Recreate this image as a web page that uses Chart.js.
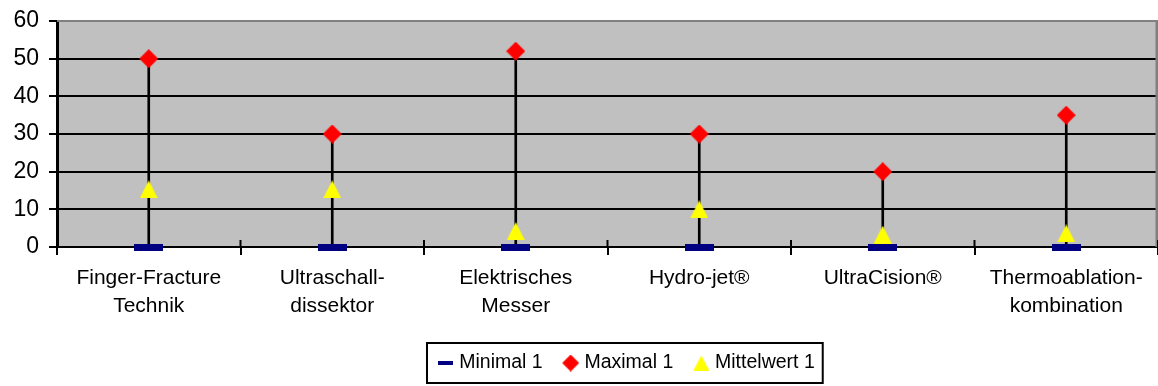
<!DOCTYPE html>
<html><head><meta charset="utf-8">
<script src="https://cdn.jsdelivr.net/npm/chart.js@4/dist/chart.umd.min.js"></script>
<style>html,body{margin:0;padding:0;background:#fff;}#wrap{width:1158px;height:386px;}</style>
</head><body><div id="wrap"><canvas id="c" width="1158" height="386"></canvas></div>
<script>
// ---- data ----
const categories = [["Finger-Fracture","Technik"],["Ultraschall-","dissektor"],["Elektrisches","Messer"],["Hydro-jet®"],["UltraCision®"],["Thermoablation-","kombination"]];
const minimal = [0, 0, 0, 0, 0, 0];
const maximal = [50, 30, 52, 30, 20, 35];
const mittelwert = [15.3, 15.3, 4.2, 10, 3.3, 3.6];
const yTicks = [0, 10, 20, 30, 40, 50, 60];
const seriesNames = ["Minimal 1", "Maximal 1", "Mittelwert 1"];

// ---- marker images ----
function marker(m, h, shape, color, off) {
  const c = document.createElement('canvas');
  c.width = m + 2 * off; c.height = h;
  const g = c.getContext('2d');
  g.fillStyle = color;
  const x0 = 2 * off;
  g.beginPath();
  if (shape === 'dash') { g.rect(x0, 0, m, h); }
  else if (shape === 'diamond') { g.moveTo(x0 + m / 2, 0); g.lineTo(x0 + m, h / 2); g.lineTo(x0 + m / 2, h); g.lineTo(x0, h / 2); g.closePath(); }
  else { g.moveTo(x0 + m / 2, 0); g.lineTo(x0 + m, h); g.lineTo(x0, h); g.closePath(); }
  g.fill();
  return c;
}
const NAVY = '#000080', RED = '#FF0000', YEL = '#FFFF00';
const dashImg = marker(29, 7, 'dash', NAVY, 0);
const diaImg = marker(19, 19, 'diamond', RED, 0);
const triImg = marker(18, 18, 'tri', YEL, 0);
const LOFF = 10.5;
const legendImgs = [marker(15, 4, 'dash', NAVY, LOFF), marker(17, 17, 'diamond', RED, LOFF), marker(16, 15, 'tri', YEL, LOFF)];

const FONT = 'Liberation Sans, Arial, sans-serif';

const plotDeco = {
  id: 'plotDeco',
  beforeDraw(chart) {
    const a = chart.chartArea, g = chart.ctx;
    g.save(); g.fillStyle = '#C0C0C0';
    g.fillRect(a.left, a.top, a.right - a.left, a.bottom - a.top);
    g.restore();
  },
  beforeDatasetsDraw(chart) {
    const a = chart.chartArea, g = chart.ctx, xs = chart.scales.x;
    g.save();
    g.strokeStyle = '#808080';
    g.lineWidth = 3;
    g.beginPath(); g.moveTo(a.right - 1, a.top - 1); g.lineTo(a.right - 1, a.bottom); g.stroke();
    g.lineWidth = 2;
    g.beginPath(); g.moveTo(a.left, a.top); g.lineTo(a.right, a.top); g.stroke();
    // inner part of the cross tick marks on the category axis
    const half = (xs.getPixelForValue(1) - xs.getPixelForValue(0)) / 2;
    g.strokeStyle = '#000'; g.lineWidth = 2;
    for (let i = 0; i <= categories.length; i++) {
      const x = xs.getPixelForValue(i) - half;
      g.beginPath(); g.moveTo(x, a.bottom - 7); g.lineTo(x, a.bottom); g.stroke();
    }
    g.restore();
  },
  afterLayout(chart) {
    const L = chart.legend;
    if (!L || !L.lineWidths) return;
    const pad = L.options.labels.padding;
    const cur = (L.left + pad + L.right - L.lineWidths[0]) / 2;
    const dx = 420.5 - cur;
    L.left += dx; L.right += dx;
  },
  afterDraw(chart) {
    const hb = chart.legend.legendHitBoxes;
    if (!hb || !hb.length) return;
    const g = chart.ctx;
    const last = hb[hb.length - 1];
    const left = hb[0].left + 6.5, right = last.left + last.width + 8;
    const cy = hb[0].top + hb[0].height / 2;
    g.save(); g.strokeStyle = '#000'; g.lineWidth = 2;
    g.strokeRect(left, cy - 20, right - left, 40);
    g.restore();
  }
};

new Chart(document.getElementById('c'), {
  data: {
    labels: categories,
    datasets: [
      { type: 'bar', label: 'range', data: maximal.map((v, i) => [minimal[i], v]), backgroundColor: '#000', borderWidth: 0, barThickness: 2, order: 10, clip: false },
      { type: 'line', label: seriesNames[0], data: minimal, showLine: false, pointStyle: dashImg, pointRadius: 10, order: 1, clip: false },
      { type: 'line', label: seriesNames[1], data: maximal, showLine: false, pointStyle: diaImg, pointRadius: 10, order: 3, clip: false },
      { type: 'line', label: seriesNames[2], data: mittelwert, showLine: false, pointStyle: triImg, pointRadius: 10, order: 2, clip: false }
    ]
  },
  options: {
    responsive: false,
    animation: false,
    devicePixelRatio: 1,
    layout: { autoPadding: false, padding: { left: 0, right: -1, top: 21, bottom: 3.25 } },
    scales: {
      x: {
        type: 'category',
        offset: true,
        grid: { offset: true, drawOnChartArea: false, drawTicks: true, tickLength: 8, color: '#000', lineWidth: 2 },
        border: { display: true, color: '#000', width: 2 },
        ticks: { font: { family: FONT, size: 21, lineHeight: 1.3 }, color: '#000', padding: 10, maxRotation: 0, autoSkip: false },
        afterFit: s => { s.height = 103.25; s.paddingLeft = 0; s.paddingRight = 0; s.paddingTop = 0; s.paddingBottom = 0; }
      },
      y: {
        min: 0, max: 60,
        afterBuildTicks: s => { s.ticks = yTicks.map(v => ({ value: v })); },
        grid: { color: c => (c.tick && c.tick.value === 60) ? '#808080' : '#000', tickColor: '#000', lineWidth: 2, tickLength: 8, drawTicks: true },
        border: { display: true, color: '#000', width: 3 },
        ticks: { font: { family: FONT, size: 23 }, color: '#000', padding: 10 },
        afterFit: s => { s.width = 57; s.paddingLeft = 0; s.paddingRight = 0; s.paddingTop = 0; s.paddingBottom = 0; }
      }
    },
    plugins: {
      tooltip: { enabled: false },
      legend: {
        position: 'bottom',
        labels: {
          usePointStyle: true,
          pointStyleWidth: 29,
          padding: 3,
          font: { family: FONT, size: 19.5 },
          color: '#000',
          generateLabels: () => seriesNames.map((n, i) => ({ text: n, pointStyle: legendImgs[i], fillStyle: 'rgba(0,0,0,0)', strokeStyle: 'rgba(0,0,0,0)', lineWidth: 0, hidden: false, datasetIndex: i + 1, fontColor: '#000' }))
        }
      }
    }
  },
  plugins: [plotDeco]
});
</script></body></html>
